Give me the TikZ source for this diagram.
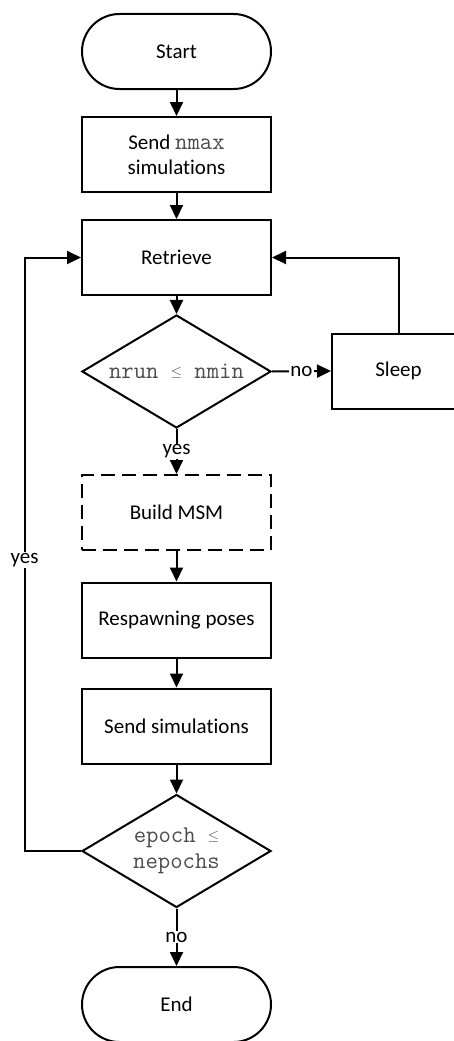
\documentclass[tikz,border=0pt]{standalone}
\usepackage{fontspec}
\setmainfont[Ligatures=NoCommon]{Carlito}
\usetikzlibrary{arrows.meta,shapes.geometric}
\begin{document}
\begin{tikzpicture}[x=1pt,y=-1pt,
  every node/.style={font=\fontsize{21}{25}\selectfont},
  box/.style={draw, line width=2pt, minimum width=189pt, minimum height=75pt, inner sep=0pt, align=center},
  term/.style={box, rounded corners=37.5pt},
  dashbox/.style={box, dash pattern=on 14pt off 7pt},
  dec/.style={draw, line width=2pt, shape=diamond, aspect=1.673, minimum width=189pt, minimum height=113pt, inner sep=0pt, align=center, font=\fontsize{21}{26.5}\selectfont},
  flow/.style={line width=2pt, -{Triangle[length=14pt,width=13pt]}},
  lab/.style={fill=white, inner sep=1pt}
]
\useasboundingbox (0,0) rectangle (454,1041);
\newcommand{\code}[1]{{\fontsize{24}{26.5}\selectfont\ttfamily\color{black!70}#1}}
\newcommand{\smle}{\raisebox{2pt}{\fontsize{15}{15}\selectfont$\leq$}}

\node[term] (start) at (176.5,51.5) {Start};
\node[box] (send) at (176.5,154.5) {Send \code{nmax}\\simulations};
\node[box] (retrieve) at (176.5,257.5) {Retrieve};
\node[dec] (dec1) at (176.5,371.5) {\code{nrun \smle{} nmin}};
\node[box, minimum width=133pt] (sleep) at (398.5,371) {Sleep};
\node[dashbox] (build) at (176.5,512.5) {Build MSM};
\node[box] (respawn) at (176.5,620) {Respawning poses};
\node[box] (sendsim) at (176.5,726) {Send simulations};
\node[dec] (dec2) at (176.5,851) {\code{epoch \smle}\\\code{nepochs}};
\node[term] (end) at (176.5,1004.5) {End};
\coordinate (loopL) at (24.5,0);

\draw[flow] (start) -- (send);
\draw[flow] (send) -- (retrieve);
\draw[flow] (retrieve) -- (dec1);
\draw[flow] (dec1.east) -- node[lab] {no} (sleep.west);
\draw[flow] (sleep.north) -- (sleep.north |- retrieve.east) -- (retrieve.east);
\draw[flow] (dec1.south) -- node[lab] {yes} (build.north);
\draw[flow] (build) -- (respawn);
\draw[flow] (respawn) -- (sendsim);
\draw[flow] (sendsim) -- (dec2);
\draw[flow] (dec2.south) -- node[lab] {no} (end.north);
\draw[flow] (dec2.west) -- (dec2.west -| loopL) -- node[lab, pos=0.49] {yes} (retrieve.west -| loopL) -- (retrieve.west);
\end{tikzpicture}
\end{document}
